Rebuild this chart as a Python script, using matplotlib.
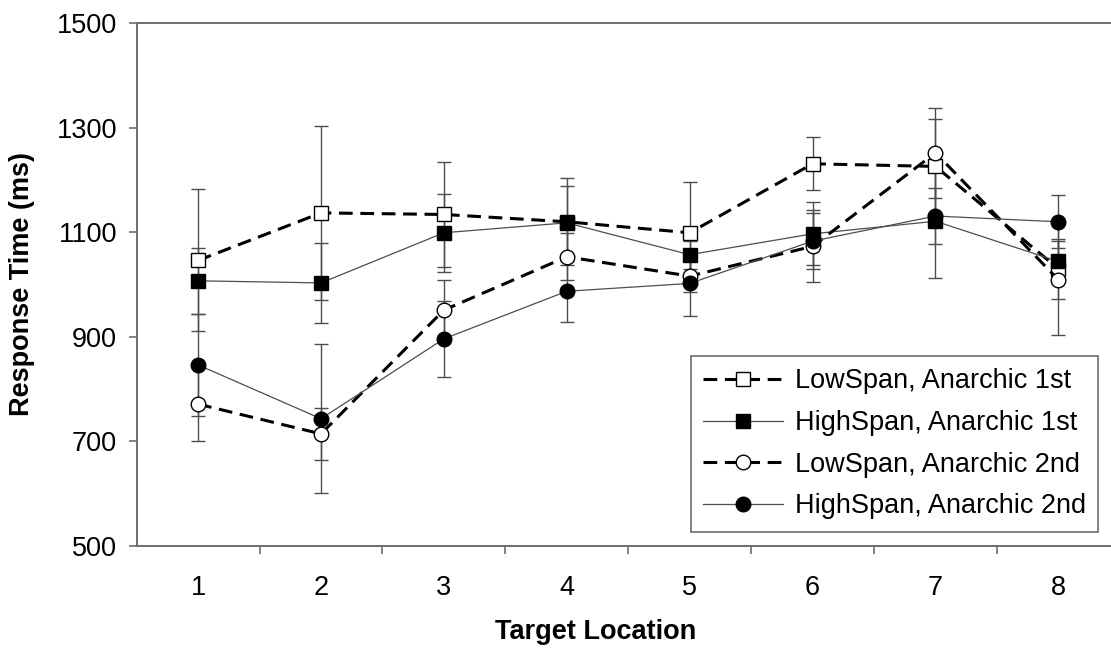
import matplotlib.pyplot as plt
import numpy as np

plt.rcParams["font.family"] = ["Liberation Sans", "DejaVu Sans"]

# Target locations on the x axis
locations = [1, 2, 3, 4, 5, 6, 7, 8]

# Mean response times (ms) and error bar half widths
low_1st = [1046, 1137, 1134, 1120, 1099, 1231, 1226, 1030]
low_1st_err = [136, 166, 100, 83, 97, 51, 90, 57]
high_1st = [1007, 1003, 1099, 1118, 1057, 1097, 1121, 1044]
high_1st_err = [63, 76, 75, 70, 27, 60, 108, 40]
low_2nd = [771, 714, 951, 1053, 1016, 1073, 1252, 1009]
low_2nd_err = [71, 50, 57, 45, 30, 69, 86, 106]
high_2nd = [846, 743, 896, 987, 1002, 1083, 1131, 1120]
high_2nd_err = [97, 143, 73, 58, 62, 54, 54, 51]

labels = [
    "LowSpan, Anarchic 1st",
    "HighSpan, Anarchic 1st",
    "LowSpan, Anarchic 2nd",
    "HighSpan, Anarchic 2nd",
]

grey = "#6e6e6e"
dark = "#4d4d4d"
fsize = 19.5

fig = plt.figure(figsize=(11.11, 6.5), dpi=100)
ax = fig.add_axes([0.123, 0.1605, 0.877, 0.8037])

series = [
    (low_1st, low_1st_err, "s", "white", "--"),
    (high_1st, high_1st_err, "s", "black", "-"),
    (low_2nd, low_2nd_err, "o", "white", "--"),
    (high_2nd, high_2nd_err, "o", "black", "-"),
]

# error bars go underneath everything
for vals, errs, _, _, _ in series:
    ax.errorbar(
        locations, vals, yerr=errs, fmt="none", ecolor=dark,
        elinewidth=1.0, capsize=5, capthick=1.0, zorder=1,
    )

for (vals, errs, marker, face, style), label in zip(series, labels):
    if style == "--":
        line, = ax.plot(
            locations, vals, color="black", linewidth=2.2, dashes=(4.5, 2.5),
            marker=marker, markersize=9.5 if marker == "s" else 10.5,
            markerfacecolor=face, markeredgecolor="black", markeredgewidth=1.0,
            label=label, zorder=3,
        )
    else:
        line, = ax.plot(
            locations, vals, color=dark, linewidth=0.9, linestyle="-",
            marker=marker, markersize=9.5 if marker == "s" else 10.5,
            markerfacecolor=face, markeredgecolor="black", markeredgewidth=1.0,
            label=label, zorder=3,
        )

ax.set_ylim(500, 1500)
ax.set_yticks(np.arange(500, 1501, 200))
ax.set_xlim(0.5, 8.428)
ax.set_xticks(locations)
ax.set_xticks(np.arange(1.5, 8.0, 1.0), minor=True)

ax.tick_params(axis="y", direction="out", length=6, width=1.2, color=grey,
               labelsize=fsize, pad=8)
ax.tick_params(axis="x", which="major", length=0, labelsize=fsize, pad=21)
ax.tick_params(axis="x", which="minor", direction="out", length=6, width=1.2,
               color=grey)

for side in ["left", "bottom", "top"]:
    ax.spines[side].set_color(grey)
    ax.spines[side].set_linewidth(1.4)
ax.spines["right"].set_visible(False)

ax.set_ylabel("Response Time (ms)", fontsize=fsize, fontweight="bold")
ax.yaxis.set_label_coords(-0.104, 0.5)
ax.set_xlabel("Target Location", fontsize=fsize, fontweight="bold")
ax.xaxis.set_label_coords(0.471, -0.14)

leg = ax.legend(
    loc="lower left", bbox_to_anchor=(0.569, 0.0268), fontsize=fsize,
    handlelength=2.95, handletextpad=0.44, borderpad=0.45, labelspacing=0.58,
    borderaxespad=0, fancybox=False, framealpha=1, edgecolor=grey,
)
leg.get_frame().set_linewidth(1.2)

fig.savefig("out.png", dpi=100)
